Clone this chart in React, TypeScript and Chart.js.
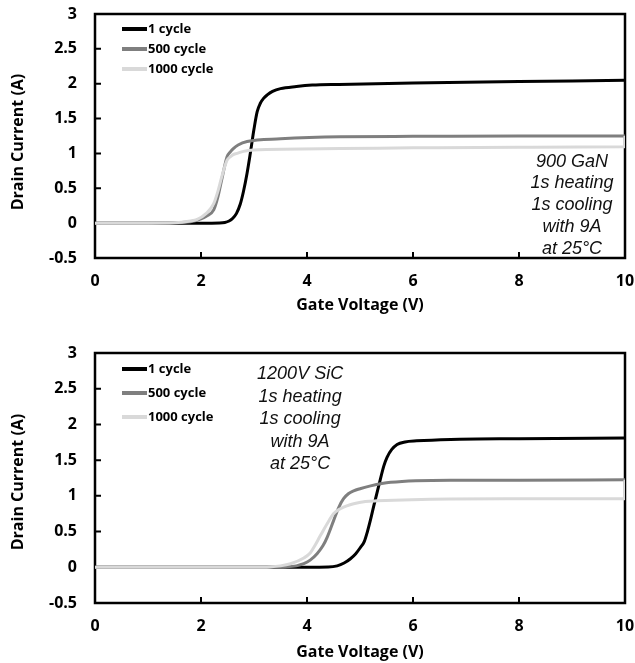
import React, { useEffect, useRef } from "react";
import { Chart, registerables } from "chart.js";

Chart.register(...registerables);

// ---------- data ----------
const seriesNames = ["1 cycle", "500 cycle", "1000 cycle"];
const seriesColors = ["#000000", "#7f7f7f", "#d9d9d9"];

const xTicks = [0, 2, 4, 6, 8, 10];
const xTickLabels = ["0", "2", "4", "6", "8", "10"];
const yTicks = [-0.5, 0, 0.5, 1, 1.5, 2, 2.5, 3];
const yTickLabels = ["-0.5", "0", "0.5", "1", "1.5", "2", "2.5", "3"];

const xTitle = "Gate Voltage (V)";
const yTitle = "Drain Current (A)";

// Top panel: 900 GaN
const ganCycle1X = [0, 1, 2, 2.35, 2.45, 2.53, 2.6, 2.67, 2.74, 2.8, 2.87, 2.93, 3.0, 3.06, 3.12, 3.18, 3.25, 3.35, 3.5, 3.8, 4.1, 4.6, 6, 8, 10];
const ganCycle1Y = [0, 0, 0, 0.003, 0.01, 0.03, 0.07, 0.14, 0.27, 0.45, 0.72, 1.0, 1.35, 1.6, 1.72, 1.79, 1.84, 1.89, 1.93, 1.96, 1.98, 1.99, 2.01, 2.03, 2.05];
const ganCycle500X = [0, 1, 1.5, 1.8, 2.0, 2.1, 2.24, 2.32, 2.39, 2.49, 2.55, 2.61, 2.7, 2.87, 3.5, 4.63, 6, 8, 10];
const ganCycle500Y = [0, 0, 0.005, 0.02, 0.06, 0.1, 0.19, 0.38, 0.62, 0.95, 1.02, 1.07, 1.12, 1.17, 1.21, 1.24, 1.245, 1.25, 1.25];
const ganCycle1000X = [0, 1, 1.5, 1.8, 1.92, 2.1, 2.24, 2.32, 2.39, 2.49, 2.55, 2.6, 2.68, 2.8, 2.99, 4.63, 6, 8, 9.99, 10];
const ganCycle1000Y = [0, 0, 0.005, 0.03, 0.05, 0.14, 0.28, 0.46, 0.66, 0.9, 0.95, 0.98, 1.0, 1.03, 1.05, 1.07, 1.08, 1.09, 1.095, 1.25];
const ganNote = ["900 GaN", "1s heating", "1s cooling", "with 9A", "at 25°C"];

// Bottom panel: 1200V SiC
const sicCycle1X = [0, 2, 4, 4.4, 4.57, 4.7, 4.82, 4.92, 5.01, 5.08, 5.14, 5.2, 5.26, 5.36, 5.45, 5.51, 5.6, 5.7, 5.85, 6.07, 6.71, 8, 10];
const sicCycle1Y = [0, 0, 0, 0.003, 0.02, 0.06, 0.12, 0.19, 0.28, 0.36, 0.5, 0.67, 0.86, 1.16, 1.42, 1.54, 1.65, 1.72, 1.755, 1.77, 1.79, 1.8, 1.81];
const sicCycle500X = [0, 2, 3.3, 3.6, 3.8, 3.94, 4.06, 4.19, 4.3, 4.38, 4.5, 4.6, 4.69, 4.78, 4.88, 5.0, 5.2, 5.58, 6.71, 8, 10];
const sicCycle500Y = [0, 0, 0, 0.005, 0.02, 0.05, 0.1, 0.19, 0.3, 0.42, 0.65, 0.84, 0.96, 1.03, 1.07, 1.1, 1.14, 1.19, 1.22, 1.22, 1.225];
const sicCycle1000X = [0, 2, 3.0, 3.3, 3.5, 3.69, 3.94, 4.06, 4.13, 4.25, 4.38, 4.5, 4.63, 4.75, 4.88, 5.1, 5.32, 6.71, 8, 9.99, 10];
const sicCycle1000Y = [0, 0, 0, 0.005, 0.02, 0.05, 0.13, 0.2, 0.28, 0.44, 0.61, 0.75, 0.82, 0.86, 0.89, 0.92, 0.93, 0.955, 0.958, 0.96, 1.225];
const sicNote = ["1200V SiC", "1s heating", "1s cooling", "with 9A", "at 25°C"];

// ---------- helpers ----------
const toPoints = (xs: number[], ys: number[]) => xs.map((x, i) => ({ x, y: ys[i] }));

type Panel = {
  top: number;
  height: number;
  padTop: number;
  xAxisHeight: number;
  xTitleOffset: number;
  yTitleShift: number;
  legendRows: number[];
  noteX: number;
  noteY: number;
  noteSpacing: number;
  noteLines: string[];
  series: { x: number[]; y: number[] }[];
};

const panels: Panel[] = [
  {
    top: 0,
    height: 320,
    padTop: 14,
    xAxisHeight: 62,
    xTitleOffset: 47,
    yTitleShift: 6,
    legendRows: [15, 35, 55],
    noteX: 9.0,
    noteY: 0.88,
    noteSpacing: 21.7,
    noteLines: ganNote,
    series: [
      { x: ganCycle1X, y: ganCycle1Y },
      { x: ganCycle500X, y: ganCycle500Y },
      { x: ganCycle1000X, y: ganCycle1000Y },
    ],
  },
  {
    top: 320,
    height: 343,
    padTop: 33,
    xAxisHeight: 60,
    xTitleOffset: 49,
    yTitleShift: 4,
    legendRows: [16, 40, 64],
    noteX: 3.87,
    noteY: 2.7,
    noteSpacing: 22.5,
    noteLines: sicNote,
    series: [
      { x: sicCycle1X, y: sicCycle1Y },
      { x: sicCycle500X, y: sicCycle500Y },
      { x: sicCycle1000X, y: sicCycle1000Y },
    ],
  },
];

const BOLD_FONT = "'Open Sans', Lato, sans-serif";

function makeFramePlugin() {
  return {
    id: "frameTicks",
    beforeDatasetsDraw(chart: any) {
      const { ctx, chartArea } = chart;
      const xs = chart.scales.x;
      const ys = chart.scales.y;
      ctx.save();
      ctx.strokeStyle = "#000";
      ctx.lineWidth = 2;
      ctx.beginPath();
      xTicks.slice(1, -1).forEach((v) => {
        const px = xs.getPixelForValue(v);
        ctx.moveTo(px, chartArea.bottom);
        ctx.lineTo(px, chartArea.bottom - 6);
      });
      yTicks.slice(1, -1).forEach((v) => {
        const py = ys.getPixelForValue(v);
        ctx.moveTo(chartArea.left, py);
        ctx.lineTo(chartArea.left + 6, py);
      });
      ctx.stroke();
      ctx.lineWidth = 2.5;
      ctx.strokeRect(chartArea.left, chartArea.top, chartArea.right - chartArea.left, chartArea.bottom - chartArea.top);
      ctx.restore();
    },
  };
}

function makeOverlayPlugin(panel: Panel) {
  return {
    id: "overlay",
    afterDraw(chart: any) {
      const { ctx, chartArea } = chart;
      const xs = chart.scales.x;
      const ys = chart.scales.y;
      ctx.save();
      // legend
      panel.legendRows.forEach((dy, i) => {
        const y = chartArea.top + dy;
        ctx.strokeStyle = seriesColors[i];
        ctx.lineWidth = 4;
        ctx.beginPath();
        ctx.moveTo(chartArea.left + 27, y);
        ctx.lineTo(chartArea.left + 52, y);
        ctx.stroke();
        ctx.fillStyle = "#000";
        ctx.font = `bold 13px ${BOLD_FONT}`;
        ctx.textAlign = "left";
        ctx.textBaseline = "middle";
        ctx.fillText(seriesNames[i], chartArea.left + 53, y + 0.5);
      });
      // note
      ctx.font = "italic 18px 'Liberation Sans', Arial, sans-serif";
      ctx.fillStyle = "#111";
      ctx.textAlign = "center";
      ctx.textBaseline = "middle";
      const nx = xs.getPixelForValue(panel.noteX);
      const ny = ys.getPixelForValue(panel.noteY);
      panel.noteLines.forEach((line, i) => {
        ctx.fillText(line, nx, ny + i * panel.noteSpacing);
      });
      // axis titles
      ctx.fillStyle = "#000";
      ctx.font = `bold 16px ${BOLD_FONT}`;
      ctx.textAlign = "center";
      ctx.textBaseline = "middle";
      ctx.fillText(xTitle, (chartArea.left + chartArea.right) / 2, chartArea.bottom + panel.xTitleOffset);
      ctx.translate(18.5, (chartArea.top + chartArea.bottom) / 2 + panel.yTitleShift);
      ctx.rotate(-Math.PI / 2);
      ctx.fillText(yTitle, 0, 0);
      ctx.restore();
    },
  };
}

function PanelChart({ panel }: { panel: Panel }) {
  const ref = useRef<HTMLCanvasElement | null>(null);
  useEffect(() => {
    if (!ref.current) return;
    const chart = new Chart(ref.current, {
      type: "line",
      data: {
        datasets: panel.series.map((s, i) => ({
          label: seriesNames[i],
          data: toPoints(s.x, s.y),
          borderColor: seriesColors[i],
          backgroundColor: seriesColors[i],
          borderWidth: 3,
          pointRadius: 0,
          fill: false,
          cubicInterpolationMode: "monotone" as const,
          order: 3 - i,
        })),
      },
      options: {
        animation: false,
        responsive: false,
        devicePixelRatio: 1,
        layout: { padding: { top: panel.padTop, right: 10, left: 0, bottom: 0 } },
        plugins: { legend: { display: false }, tooltip: { enabled: false } },
        scales: {
          x: {
            type: "linear",
            min: 0,
            max: 10,
            grid: { display: false, drawTicks: false },
            border: { display: false },
            afterBuildTicks: (s: any) => {
              s.ticks = xTicks.map((v) => ({ value: v }));
            },
            afterFit: (s: any) => {
              s.height = panel.xAxisHeight;
              s.paddingLeft = 0;
              s.paddingRight = 0;
            },
            ticks: {
              padding: 14,
              color: "#000",
              font: { family: BOLD_FONT, size: 16, weight: "bold" },
              maxRotation: 0,
              callback: (v: any) => {
                const i = xTicks.indexOf(Number(v));
                return i >= 0 ? xTickLabels[i] : "";
              },
            },
          },
          y: {
            type: "linear",
            min: -0.5,
            max: 3,
            grid: { display: false, drawTicks: false },
            border: { display: false },
            afterBuildTicks: (s: any) => {
              s.ticks = yTicks.map((v) => ({ value: v }));
            },
            afterFit: (s: any) => {
              s.width = 95;
              s.paddingTop = 0;
              s.paddingBottom = 0;
            },
            ticks: {
              padding: 18,
              color: "#000",
              font: { family: BOLD_FONT, size: 16, weight: "bold" },
              callback: (v: any) => {
                const i = yTicks.findIndex((t) => Math.abs(t - Number(v)) < 1e-9);
                return i >= 0 ? yTickLabels[i] : "";
              },
            },
          },
        },
      },
      plugins: [makeFramePlugin(), makeOverlayPlugin(panel)],
    } as any);
    return () => chart.destroy();
  }, [panel]);
  return (
    <div style={{ position: "absolute", left: 0, top: panel.top, width: 635, height: panel.height }}>
      <canvas ref={ref} width={635} height={panel.height} style={{ display: "block" }} />
    </div>
  );
}

export default function App() {
  return (
    <div style={{ position: "absolute", left: 0, top: 0, width: 635, height: 663, background: "#fff" }}>
      {panels.map((p, i) => (
        <PanelChart key={i} panel={p} />
      ))}
    </div>
  );
}
